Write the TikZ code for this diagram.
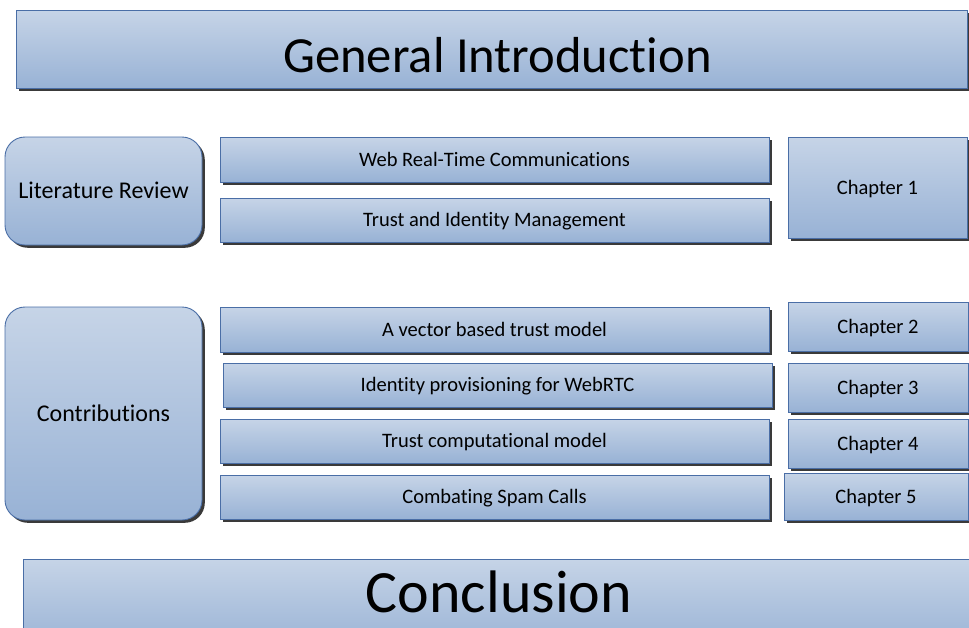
\documentclass[tikz,border=0pt]{standalone}
\usepackage{fontspec}
\setmainfont{Carlito}[Ligatures={NoCommon,NoContextual}]
\usetikzlibrary{shadows}
\definecolor{gtop}{HTML}{C6D4E7}
\definecolor{gbot}{HTML}{98B2D5}
\definecolor{bordc}{HTML}{4A6EA6}
\definecolor{shadc}{HTML}{3A3A3A}
\begin{document}
\begin{tikzpicture}[x=1pt,y=-1pt,
  box/.style={draw=bordc, line width=0.9pt, top color=gtop, bottom color=gbot,
    inner sep=0pt, outer sep=0pt, text=black, text height=13.4pt, text depth=0pt,
    drop shadow={shadow xshift=2.8pt, shadow yshift=-2.8pt, fill=shadc, opacity=1},
    font=\fontsize{20.5}{24}\selectfont},
  rbox/.style={box, rounded corners=20pt, text height=15.6pt, font=\fontsize{24}{28}\selectfont},
  bigtext/.style={anchor=base, inner sep=0pt, text=black}]
\useasboundingbox (0,0) rectangle (969,627);
% General Introduction
\node[box, minimum width=951pt, minimum height=78pt] (gi) at (491.5,49) {};
\node[bigtext, font=\fontsize{50.6}{56}\selectfont] (gitext) at (497.5,72) {General Introduction};
% Literature review block
\node[rbox, minimum width=197pt, minimum height=108pt] (lr) at (103.5,191) {Literature Review};
\node[box, minimum width=549pt, minimum height=45pt] (web) at (494.5,159.5) {Web Real-Time Communications};
\node[box, minimum width=549pt, minimum height=44pt] (tim) at (494.5,220) {Trust and Identity Management};
\node[box, minimum width=179pt, minimum height=101pt] (ch1) at (877.5,187.5) {Chapter 1};
% Contributions block
\node[rbox, minimum width=197pt, minimum height=213pt] (con) at (103.5,413.5) {Contributions};
\node[box, minimum width=549pt, minimum height=45pt] (vec) at (494.5,329.5) {A vector based trust model};
\node[box, minimum width=549pt, minimum height=44pt] (idp) at (497.5,385) {Identity provisioning for WebRTC};
\node[box, minimum width=549pt, minimum height=44pt] (tcm) at (494.5,441) {Trust computational model};
\node[box, minimum width=549pt, minimum height=44pt] (spam) at (494.5,497) {Combating Spam Calls};
\node[box, minimum width=180pt, minimum height=49pt] (ch2) at (878,326.5) {Chapter 2};
\node[box, minimum width=180pt, minimum height=49pt] (ch3) at (878,387.5) {Chapter 3};
\node[box, minimum width=180pt, minimum height=49pt] (ch4) at (878,443.5) {Chapter 4};
\node[box, minimum width=184pt, minimum height=47pt] (ch5) at (876,496.5) {Chapter 5};
% Conclusion
\node[box, minimum width=952pt, minimum height=91pt] (concl) at (499,604.5) {};
\node[bigtext, font=\fontsize{60}{66}\selectfont] (concltext) at (499,612) {Conclusion};
\end{tikzpicture}
\end{document}
